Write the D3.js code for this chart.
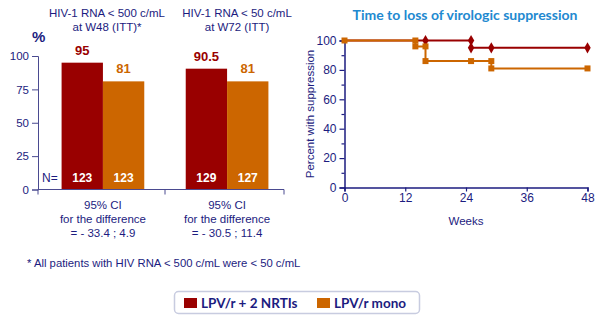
<!DOCTYPE html>
<html>
<head>
<meta charset="utf-8">
<script src="https://cdn.jsdelivr.net/npm/d3@7"></script>
<style>
  body { margin: 0; background: #fff; }
  svg { display: block; }
  text { font-family: "Liberation Sans", Arial, sans-serif; }
</style>
</head>
<body>
<svg id="chart"></svg>
<script>
(function(){
    "use strict";

    const width = 600,
        height = 321;

    const navy = "#1c1c80",
        axisGrey = "#4a4a90",
        red = "#990000",
        orange = "#cc6600";

    // bar panel
    const groups = ["w48", "w72"];
    const arms = ["nrti", "mono"];
    const groupTitles = [["HIV-1 RNA < 500 c/mL", "at W48 (ITT)*"], ["HIV-1 RNA < 50 c/mL", "at W72 (ITT)"]];
    const pctNrti = [95, 90.5];
    const pctMono = [81, 81];
    const pctLabels = [["95", "81"], ["90.5", "81"]];
    const nNrti = [123, 129];
    const nMono = [123, 127];
    const ciText = [["95% CI", "for the difference", "= - 33.4 ; 4.9"], ["95% CI", "for the difference", "= - 30.5 ; 11.4"]];
    const barTicks = [0, 25, 50, 75, 100];

    // Kaplan-Meier panel
    const weekTicks = [0, 12, 24, 36, 48];
    const kmNrtiWeeks = [0, 16, 25, 25, 29, 48];
    const kmNrtiPct = [100, 100, 100, 95, 95, 95];
    const kmMonoWeeks = [0, 14, 14, 16, 16, 25, 29, 29, 48];
    const kmMonoPct = [100, 100, 96, 96, 86, 86, 86, 81, 81];

    const legendLabels = ["LPV/r + 2 NRTIs", "LPV/r mono"];

    const svg = d3.select("svg#chart")
        .attr("width", width)
        .attr("height", height);

    // ---------- left: bars ----------
    const left = svg.append("g");

    const x0 = d3.scaleBand().domain(groups).range([38, 292]).paddingInner(0.334).paddingOuter(0.19);
    const x1 = d3.scaleBand().domain(arms).range([0, x0.bandwidth()]);
    const yb = d3.scaleLinear().domain([0, 100]).range([189.5, 56]);

    const barData = groups.map((g, i) => ({
        g: g,
        vals: [
            {arm: "nrti", v: pctNrti[i], n: nNrti[i], lab: pctLabels[i][0], c: red},
            {arm: "mono", v: pctMono[i], n: nMono[i], lab: pctLabels[i][1], c: orange}
        ]
    }));

    const gBars = left.selectAll("g.grp")
        .data(barData)
        .enter().append("g")
        .attr("class", "grp")
        .attr("transform", d => `translate(${x0(d.g)},0)`);

    gBars.selectAll("rect")
        .data(d => d.vals)
        .enter().append("rect")
        .attr("x", d => x1(d.arm))
        .attr("y", d => yb(d.v))
        .attr("width", x1.bandwidth())
        .attr("height", d => yb(0) - yb(d.v))
        .attr("fill", d => d.c);

    gBars.selectAll("text.val")
        .data(d => d.vals)
        .enter().append("text")
        .attr("class", "val")
        .attr("x", d => x1(d.arm) + x1.bandwidth() / 2)
        .attr("y", d => yb(d.v) - 8)
        .attr("text-anchor", "middle")
        .attr("font-size", 13)
        .attr("font-weight", "bold")
        .attr("fill", d => d.c)
        .text(d => d.lab);

    gBars.selectAll("text.n")
        .data(d => d.vals)
        .enter().append("text")
        .attr("class", "n")
        .attr("x", d => x1(d.arm) + x1.bandwidth() / 2)
        .attr("y", 182)
        .attr("text-anchor", "middle")
        .attr("font-size", 12)
        .attr("font-weight", "bold")
        .attr("fill", "#fff")
        .text(d => d.n);

    left.append("text")
        .attr("x", 42).attr("y", 182)
        .attr("font-size", 12)
        .attr("fill", navy)
        .text("N=");

    // y axis
    const yAxisL = left.append("g")
        .attr("transform", "translate(38,0)")
        .call(d3.axisLeft(yb).tickValues(barTicks).tickSize(6).tickPadding(3));
    yAxisL.select(".domain").attr("stroke", axisGrey);
    yAxisL.selectAll(".tick line").attr("stroke", axisGrey);
    yAxisL.selectAll(".tick text")
        .attr("font-size", 11.5)
        .attr("fill", navy)
        .style("font-family", "Liberation Sans, Arial, sans-serif");

    // x axis baseline with separators
    left.append("line")
        .attr("x1", 38).attr("x2", 284)
        .attr("y1", yb(0)).attr("y2", yb(0))
        .attr("stroke", axisGrey);
    left.selectAll("line.sep")
        .data([38, 165, 284])
        .enter().append("line")
        .attr("class", "sep")
        .attr("x1", d => d).attr("x2", d => d)
        .attr("y1", yb(0)).attr("y2", yb(0) + 5)
        .attr("stroke", axisGrey);

    left.append("text")
        .attr("x", 32).attr("y", 42)
        .attr("font-size", 15)
        .attr("font-weight", "bold")
        .attr("fill", navy)
        .text("%");

    // group titles and CI notes
    const titleX = [107, 237];
    groupTitles.forEach((lines, i) => {
        lines.forEach((t, j) => {
            left.append("text")
                .attr("x", titleX[i]).attr("y", 17 + j * 14)
                .attr("text-anchor", "middle")
                .attr("font-size", 11.5)
                .attr("fill", navy)
                .text(t);
        });
        const cx = x0(groups[i]) + x0.bandwidth() / 2;
        ciText[i].forEach((t, j) => {
            left.append("text")
                .attr("x", cx).attr("y", 209 + j * 14)
                .attr("text-anchor", "middle")
                .attr("font-size", 11.5)
                .attr("fill", navy)
                .text(t);
        });
    });

    left.append("text")
        .attr("x", 27).attr("y", 267)
        .attr("font-size", 11.3)
        .attr("fill", navy)
        .text("* All patients with HIV RNA < 500 c/mL were < 50 c/mL");

    // ---------- right: time to loss ----------
    const right = svg.append("g");
    const xk = d3.scaleLinear().domain([0, 48]).range([344.5, 587.5]);
    const yk = d3.scaleLinear().domain([0, 100]).range([187.5, 40.5]);

    right.append("text")
        .attr("x", 465).attr("y", 20)
        .attr("text-anchor", "middle")
        .attr("font-size", 14)
        .attr("font-weight", "bold")
        .attr("fill", "#2289d0")
        .style("font-family", "Lato, 'Open Sans', sans-serif")
        .text("Time to loss of virologic suppression");

    right.append("g")
        .attr("transform", `translate(${xk(0)},0)`)
        .call(d3.axisLeft(yk).tickValues(d3.range(0, 101, 20)).tickSize(5).tickPadding(3));
    right.append("g")
        .attr("transform", `translate(${xk(0)},0)`)
        .call(d3.axisLeft(yk).tickValues(d3.range(10, 100, 20)).tickSize(3).tickFormat(""))
        .select(".domain").remove();
    right.append("g")
        .attr("transform", `translate(0,${yk(0)})`)
        .call(d3.axisBottom(xk).tickValues(weekTicks).tickSize(4).tickPadding(2));

    right.selectAll(".domain").attr("stroke", navy).attr("stroke-width", 1.5);
    right.selectAll(".tick line").attr("stroke", navy).attr("stroke-width", 1.2);
    right.selectAll(".tick text")
        .attr("font-size", 12)
        .attr("fill", navy)
        .style("font-family", "Liberation Sans, Arial, sans-serif");

    right.append("text")
        .attr("transform", `translate(314,${yk(50)}) rotate(-90)`)
        .attr("text-anchor", "middle")
        .attr("font-size", 11.5)
        .attr("fill", navy)
        .text("Percent with suppression");

    right.append("text")
        .attr("x", 466).attr("y", 225)
        .attr("text-anchor", "middle")
        .attr("font-size", 11.5)
        .attr("fill", navy)
        .text("Weeks");

    const step = d3.line()
        .x(d => xk(d[0]))
        .y(d => yk(d[1]))
        .curve(d3.curveStepAfter);

    const nrtiPts = kmNrtiWeeks.map((w, i) => [w, kmNrtiPct[i]]);
    const monoPts = kmMonoWeeks.map((w, i) => [w, kmMonoPct[i]]);

    right.append("path")
        .attr("d", step(nrtiPts))
        .attr("fill", "none")
        .attr("stroke", red)
        .attr("stroke-width", 2);
    right.selectAll("path.dia")
        .data(nrtiPts.filter(d => d[0] > 0))
        .enter().append("path")
        .attr("class", "dia")
        .attr("d", d3.symbol(d3.symbolDiamond, 36))
        .attr("transform", d => `translate(${xk(d[0])},${yk(d[1])})`)
        .attr("fill", red);

    right.append("path")
        .attr("d", step(monoPts))
        .attr("fill", "none")
        .attr("stroke", orange)
        .attr("stroke-width", 2);
    right.selectAll("rect.sq")
        .data(monoPts)
        .enter().append("rect")
        .attr("class", "sq")
        .attr("x", d => xk(d[0]) - 3)
        .attr("y", d => yk(d[1]) - 3)
        .attr("width", 6).attr("height", 6)
        .attr("fill", orange);

    // ---------- legend ----------
    const lg = svg.append("g");
    lg.append("rect")
        .attr("x", 174.5).attr("y", 291.5)
        .attr("width", 245).attr("height", 22)
        .attr("rx", 4)
        .attr("fill", "#fff")
        .attr("stroke", "#c8cce0")
        .attr("stroke-width", 1.5);
    const legendX = [184, 317];
    const legendC = [red, orange];
    lg.selectAll("rect.key")
        .data(legendLabels)
        .enter().append("rect")
        .attr("class", "key")
        .attr("x", (d, i) => legendX[i])
        .attr("y", 298)
        .attr("width", 13).attr("height", 10)
        .attr("fill", (d, i) => legendC[i]);
    lg.selectAll("text.key")
        .data(legendLabels)
        .enter().append("text")
        .attr("class", "key")
        .attr("x", (d, i) => legendX[i] + 17)
        .attr("y", 308)
        .attr("font-size", 13.5)
        .attr("font-weight", "bold")
        .attr("fill", navy)
        .style("font-family", "Lato, 'Open Sans', sans-serif")
        .text(d => d);
})();
</script>
</body>
</html>
